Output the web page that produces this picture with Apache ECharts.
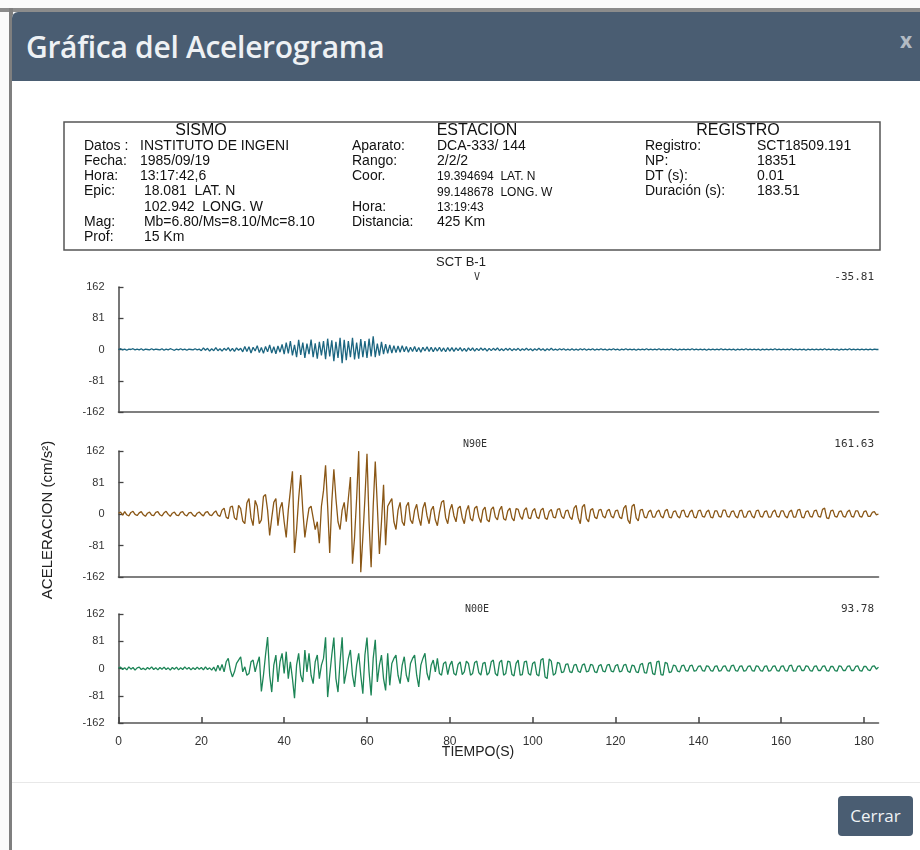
<!DOCTYPE html>
<html lang="es">
<head>
<meta charset="utf-8">
<title>Gráfica del Acelerograma</title>
<script src="https://cdn.jsdelivr.net/npm/echarts@6/dist/echarts.min.js"></script>
<style>
html,body{margin:0;padding:0;width:920px;height:850px;overflow:hidden;background:#fbfbfb;}
.page-top{position:absolute;left:0;top:8px;width:920px;height:4px;background:#8c8c8c;}
.page-edge{position:absolute;left:9px;top:8px;width:4px;height:842px;background:#7f7f7f;}
.modal{position:absolute;left:12px;top:12px;width:908px;height:838px;background:#fff;border-top-left-radius:6px;overflow:hidden;}
.modal-header{position:absolute;left:0;top:0;width:100%;height:69px;background:#4a5d72;}
.modal-title{position:absolute;left:14px;top:14px;line-height:40px;font:600 30px "Open Sans",sans-serif;color:#eef1f4;letter-spacing:-0.3px;}
.close{position:absolute;left:888px;top:14px;font:bold 21px "Open Sans",sans-serif;color:#b3bbc4;}
.footer-line{position:absolute;left:0;top:770px;width:100%;height:1px;background:#e8e8e8;}
.btn{position:absolute;left:826px;top:784px;width:75px;height:40px;background:#4a5d72;border-radius:4px;color:#f0f3f5;font:17px "Open Sans",sans-serif;line-height:40px;text-align:center;}
#chart{position:absolute;left:0;top:0;width:920px;height:850px;z-index:2;}
</style>
</head>
<body>
<div class="page-top"></div>
<div class="page-edge"></div>
<div class="modal">
  <div class="modal-header">
    <div class="modal-title">Gráfica del Acelerograma</div>
    <div class="close">x</div>
  </div>
  <div class="footer-line"></div>
  <div class="btn">Cerrar</div>
</div>
<div id="chart"></div>
<script>
// Sampling step of the plotted traces (s) and record length (s)
const STEP = 0.5;
const DURATION = 183.51;

// Component V (cm/s^2), one value every STEP seconds from t = 0
const compV = [
  0,2,-1,1,-2,1,0,2,-1,1,-1,2,-2,1,0,-1,2,-1,1,0,
  -1,2,-2,1,-1,2,0,-2,1,-1,2,-1,1,-2,1,0,-1,2,-1,1,
  -3,4,-2,3,-4,2,-3,5,-3,2,-4,3,-2,5,-4,3,-5,4,-2,3,
  -6,8,-5,7,-9,6,-4,10,-8,5,-10,8,-6,12,-9,7,-11,9,-7,13,
  -12,18,-10,22,-15,12,-20,25,-14,18,-22,15,-12,26,-20,16,-24,20,-15,22,
  -25,28,-18,24,-30,20,-22,30,-35.81,25,-28,22,-20,30,-26,18,-24,27,-20,22,
  -22,28,-18,34,-20,15,-16,20,-12,14,-10,12,-9,10,-8,9,-7,10,-6,8,
  -7,6,-5,8,-6,5,-7,6,-4,7,-5,6,-6,5,-4,6,-5,4,-6,5,
  -4,5,-5,4,-3,5,-4,3,-5,4,-3,4,-4,3,-3,4,-2,3,-4,3,
  -3,3,-2,4,-3,2,-3,3,-2,3,-3,2,-2,3,-3,2,-2,3,-2,2,
  -3,2,-2,3,-2,2,-3,2,-2,3,-2,1,-2,2,-1,2,-2,1,-2,2,
  -2,1,-2,2,-1,2,-2,1,-1,2,-2,1,-1,2,-1,1,-2,1,-1,2,
  -1,1,-2,1,-1,2,-1,1,-1,1,-2,1,-1,1,-1,2,-1,1,-1,1,
  -1,2,-1,1,-1,1,-1,2,-1,1,-2,1,-1,1,-1,1,-1,2,-1,1,
  -1,1,-1,1,-2,1,-1,1,-1,1,-1,2,-1,1,-1,1,-1,1,-2,1,
  -1,1,-1,2,-1,1,-1,1,-1,1,-2,1,-1,1,-1,1,-1,2,-1,1,
  -1,1,-1,1,-1,2,-1,1,-1,1,-1,1,-2,1,-1,1,-1,1,-1,1,
  -1,2,-1,1,-1,1,-1,1,-2,1,-1,1,-1,2,-1,1,-1,1,-1,1,
  -1,1,-1,1,-1,1,0,0
];

// Component N90E (cm/s^2)
const compN90E = [
  2,5,-3,6,-2,-5,4,7,-1,-4,3,6,-2,-6,2,5,-3,-4,4,6,
  -2,-5,3,7,-1,-6,2,5,-3,-4,4,6,-2,-5,3,4,-3,-6,2,5,
  -1,-5,4,6,-2,-4,3,8,-3,-6,10,15,-8,-12,18,20,-10,-15,22,14,
  -18,-25,28,40,-10,-30,35,20,-25,-15,45,50,10,-55,-10,30,40,-30,15,30,
  -20,-60,10,60,110,-100,-40,40,100,10,-60,-20,15,20,-10,-40,-20,-75,20,60,
  125,20,-100,30,115,40,-20,-40,10,30,-20,40,95,-128,-60,40,161.63,-150,-60,40,
  155,-20,-137,20,135,20,-103,-20,75,-80,20,30,40,-20,-40,10,30,-20,-30,20,
  30,-15,-25,10,25,-10,-30,15,30,-5,-25,10,20,-15,-30,5,30,35,-10,-25,
  10,25,-5,-20,15,20,-10,-25,8,22,-12,-18,15,20,-8,-22,10,18,-15,-20,
  12,18,-8,-15,10,20,-12,-16,8,15,-10,-18,14,12,-6,-14,10,16,-10,-12,
  8,14,-8,-12,10,15,-10,-14,6,12,-8,-10,12,14,-6,-12,8,10,-8,-14,
  15,22,-10,-25,18,25,-12,-20,10,14,-8,-12,10,12,-6,-10,8,12,-6,-10,
  8,10,-8,-12,15,22,-15,-25,20,25,-10,-18,10,12,-8,-10,6,10,-8,-8,
  6,10,-6,-10,8,12,-8,-10,6,8,-6,-10,8,10,-6,-8,6,10,-8,-10,
  8,10,-6,-8,6,10,-8,-10,8,8,-6,-8,10,10,-6,-8,6,8,-6,-10,
  8,10,-8,-8,6,8,-6,-10,8,10,-6,-8,6,8,-8,-8,6,10,-6,-8,
  8,8,-6,-10,6,10,-8,-8,10,12,-8,-10,6,8,-6,-8,8,10,-6,-8,
  12,15,-10,-12,8,10,-6,-8,6,8,-6,-8,6,10,-6,-8,8,8,-6,-8,
  6,8,-6,-6,4,6,-2,0
];

// Component N00E (cm/s^2)
const compN00E = [
  1,4,-3,2,-4,5,-2,3,-5,2,4,-3,1,-4,3,-2,5,-3,2,-4,
  3,-2,4,-3,2,-5,3,-2,4,-4,2,-3,5,-2,3,-4,2,-3,4,-2,
  3,-4,5,-3,2,-5,4,-8,10,-6,12,-10,20,30,-5,-25,-10,15,25,35,
  -10,5,-20,-15,20,25,-10,15,35,-68,-20,40,93.78,-20,-70,10,40,-40,20,45,
  -15,50,-30,20,-30,-88,10,45,-20,-40,55,-10,45,-20,-45,20,40,-30,10,30,
  93,-85,-20,40,92,-30,-70,20,93,-45,-10,30,55,-20,-55,10,45,-20,-75,40,
  92,-10,-80,30,85,-40,10,40,-30,-65,45,-50,15,30,40,-20,-45,10,35,-20,
  -40,15,30,40,-20,-55,10,30,45,-15,-35,10,25,-10,30,-15,-20,15,20,-18,
  10,22,-15,-20,12,20,-18,-10,22,15,-20,-15,18,22,-12,-20,15,18,-20,-12,
  20,25,-15,-22,18,25,-20,-15,22,20,-18,-22,15,25,-20,-18,20,22,-15,-20,
  15,20,-18,-22,25,30,-25,-30,28,22,-20,-15,18,15,-12,-10,12,14,-10,-12,
  10,12,-8,-12,10,14,-10,-8,12,10,-10,-12,8,12,-8,-10,10,12,-8,-10,
  8,12,-10,-8,10,12,-8,-12,10,8,-10,-12,12,15,-12,-14,15,18,-15,-18,
  20,22,-18,-20,18,15,-12,-10,10,8,-8,-10,8,10,-6,-8,8,10,-8,-6,
  6,8,-6,-8,8,6,-6,-8,6,8,-8,-6,6,8,-6,-8,8,10,-6,-8,
  6,8,-8,-6,6,8,-6,-8,8,6,-6,-8,6,8,-8,-6,6,8,-6,-8,
  6,8,-6,-8,8,10,-8,-8,6,8,-6,-6,8,6,-6,-8,6,8,-6,-6,
  6,8,-6,-8,6,6,-6,-8,8,6,-6,-6,6,8,-6,-6,6,8,-6,-8,
  6,6,-4,-6,6,8,-2,4
];

// Panel names and trace colours
const componentNames = ['V', 'N90E', 'N00E'];
const traceColors = ['#1b6580', '#8a5716', '#1d8557'];
const yTicks = [-162, -81, 0, 81, 162];
const xTickStep = 20;

// Header table contents: [label, value, row index]
const sismoRows = [
  ['Datos :', 'INSTITUTO DE INGENI', 0],
  ['Fecha:', '1985/09/19', 1],
  ['Hora:', '13:17:42,6', 2],
  ['Epic:', ' 18.081  LAT. N', 3],
  ['', ' 102.942  LONG. W', 4],
  ['Mag:', ' Mb=6.80/Ms=8.10/Mc=8.10', 5],
  ['Prof:', ' 15 Km', 6]
];
const estacionRows = [
  ['Aparato:', 'DCA-333/ 144', 0, 0],
  ['Rango:', '2/2/2', 1, 0],
  ['Coor.', '19.394694  LAT. N', 2, 1],
  ['', '99.148678  LONG. W', 3, 1],
  ['Hora:', '13:19:43', 4, 1],
  ['Distancia:', '425 Km', 5, 0]
];
const registroRows = [
  ['Registro:', 'SCT18509.191', 0],
  ['NP:', '18351', 1],
  ['DT (s):', '0.01', 2],
  ['Duración (s):', '183.51', 3]
];

const traces = [compV, compN90E, compN00E];

function toPairs(values) {
  return values.map((v, i) => [i * STEP, v]);
}
function peakOf(values) {
  let p = 0;
  values.forEach(v => { if (Math.abs(v) > Math.abs(p)) p = v; });
  return p.toFixed(2);
}

const ARIAL = '"Liberation Sans", Arial, sans-serif';
const MONO = '"DejaVu Sans Mono", monospace';

// Plot panel geometry
const panels = [
  { top: 287, height: 125 },
  { top: 451, height: 126 },
  { top: 614, height: 109 }
];
const plotLeft = 118.5, plotWidth = 760;

function txt(x, y, text, font, align, color) {
  return {
    type: 'text', x: x, y: y, silent: true,
    style: { text: text, font: font, fill: color || '#111', align: align || 'left', verticalAlign: 'middle' }
  };
}

const graphics = [];
graphics.push({
  type: 'rect', silent: true,
  shape: { x: 64, y: 122, width: 816, height: 128 },
  style: { fill: 'none', stroke: '#555', lineWidth: 1.5 }
});
graphics.push(txt(201, 131, 'SISMO', '16px ' + ARIAL, 'center'));
graphics.push(txt(477, 131, 'ESTACION', '16px ' + ARIAL, 'center'));
graphics.push(txt(738, 131, 'REGISTRO', '16px ' + ARIAL, 'center'));

// Row baselines shared by the three columns of the table
const rowY = [146, 161, 176, 191.5, 207, 222.5, 237.5];
sismoRows.forEach(r => {
  if (r[0]) graphics.push(txt(84, rowY[r[2]], r[0], '14px ' + ARIAL));
  graphics.push(txt(140, rowY[r[2]], r[1], '14px ' + ARIAL));
});
estacionRows.forEach(r => {
  if (r[0]) graphics.push(txt(352, rowY[r[2]], r[0], '14px ' + ARIAL));
  graphics.push(txt(437, rowY[r[2]] + (r[3] ? 1 : 0), r[1], (r[3] ? '12px ' : '14px ') + ARIAL));
});
registroRows.forEach(r => {
  graphics.push(txt(645, rowY[r[2]], r[0], '14px ' + ARIAL));
  graphics.push(txt(757, rowY[r[2]], r[1], '14px ' + ARIAL));
});

// Station name and component labels with peak values
graphics.push(txt(461, 262, 'SCT B-1', '13px ' + ARIAL, 'center', '#222'));
const nameY = [277, 444, 609];
const nameX = [477, 475, 477];
traces.forEach((tr, i) => {
  graphics.push(txt(nameX[i], nameY[i], componentNames[i], '10px ' + MONO, 'center', '#333'));
  graphics.push(txt(874, nameY[i], peakOf(tr), '11px ' + MONO, 'right', '#333'));
});

// Axis titles
graphics.push(txt(478, 752, 'TIEMPO(S)', '14px ' + ARIAL, 'center', '#222'));
graphics.push({
  type: 'text', x: 48, y: 520, rotation: Math.PI / 2, silent: true,
  style: { text: 'ACELERACION (cm/s²)', font: '15px ' + ARIAL, fill: '#222', align: 'center', verticalAlign: 'middle' }
});

const grids = panels.map(p => ({ left: plotLeft, width: plotWidth, top: p.top, height: p.height }));

const xAxes = panels.map((p, i) => ({
  type: 'value', gridIndex: i, min: 0, max: DURATION, interval: xTickStep,
  axisLine: { show: true, onZero: false, lineStyle: { color: '#555', width: 1.6 } },
  axisTick: { show: i === 2, inside: true, length: 6, lineStyle: { color: '#444', width: 1.5 } },
  axisLabel: { show: i === 2, showMaxLabel: false, margin: 13, fontSize: 12, fontFamily: ARIAL, color: '#333' },
  splitLine: { show: false }
}));

const yAxes = panels.map((p, i) => ({
  type: 'value', gridIndex: i, min: yTicks[0], max: yTicks[yTicks.length - 1], interval: yTicks[1] - yTicks[0],
  axisLine: { show: true, lineStyle: { color: '#555', width: 1.6 } },
  axisTick: { show: true, inside: true, length: 5, lineStyle: { color: '#444', width: 1.3 } },
  axisLabel: { margin: 14, fontSize: 11, fontFamily: ARIAL, color: '#333' },
  splitLine: { show: false }
}));

const series = traces.map((tr, i) => ({
  type: 'line', xAxisIndex: i, yAxisIndex: i,
  data: toPairs(tr), showSymbol: false, symbol: 'none',
  lineStyle: { color: traceColors[i], width: 1.3 },
  silent: true, z: 3
}));

const chart = echarts.init(document.getElementById('chart'), null, { renderer: 'canvas' });
chart.setOption({
  animation: false,
  backgroundColor: 'transparent',
  grid: grids,
  xAxis: xAxes,
  yAxis: yAxes,
  series: series,
  graphic: graphics
});
</script>
</body>
</html>
